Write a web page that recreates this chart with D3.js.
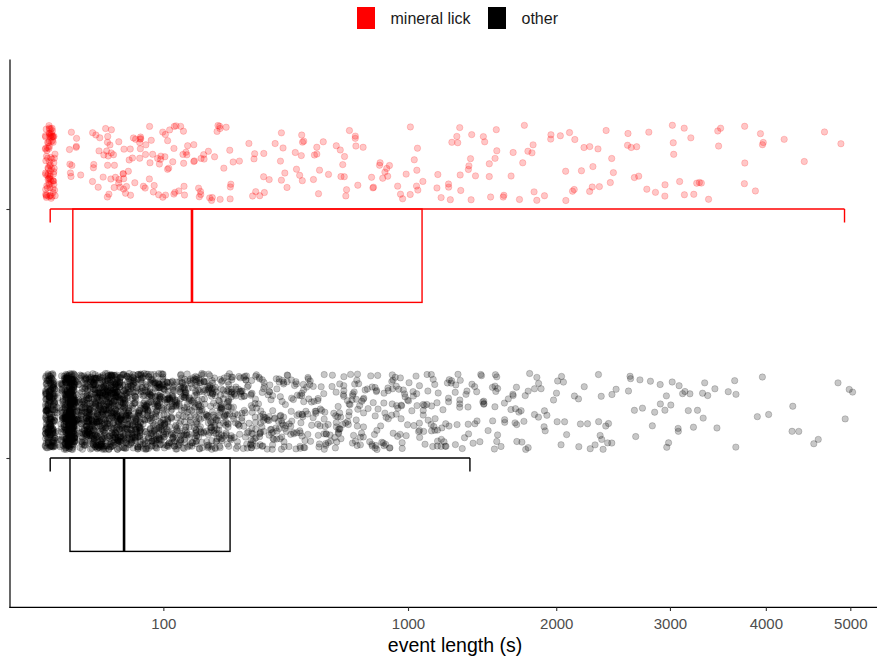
<!DOCTYPE html>
<html><head><meta charset="utf-8">
<script src="https://cdn.jsdelivr.net/npm/d3@7"></script>
<style>body{margin:0;background:#fff}svg{display:block}</style>
</head><body>
<svg id="chart" width="877" height="656"></svg>
<script>
// ---------------- data ----------------
const groups = ["mineral lick", "other"];
const groupColors = ["#FF0000", "#000000"];
const xTickValues = [100, 1000, 2000, 3000, 4000, 5000];
const xTitle = "event length (s)";

// mineral lick: event length (s) and number of events with that length
const lickLengths = [
  0, 2.6, 2.9, 3.1, 3.4, 5.2, 5.8, 15, 15.7, 16.2,
  16.4, 18.1, 19.4, 19.9, 22.1, 22.6, 23.5, 24.3, 24.9, 25.5,
  27.3, 28, 29.5, 31.2, 33.8, 34.5, 36.3, 38.8, 39.9, 41.1,
  41.8, 42.6, 43.7, 45.7, 47.7, 49, 50.6, 51, 54, 56.2,
  57.5, 59.4, 60.7, 64, 66.8, 68.8, 71.7, 72.8, 73.8, 77.9,
  80.5, 84.2, 89.7, 91.4, 94.2, 96.5, 97.1, 98.3, 98.9, 100.1,
  101.2, 101.8, 107.2, 109.1, 112.2, 115.3, 117.2, 118.5, 119.8, 125,
  128.3, 135.1, 137.2, 142, 145.6, 147, 152.8, 156.5, 162.4, 167.7,
  171.5, 173.9, 175.4, 177, 183.3, 195.5, 199.6, 208, 212.3, 216.6,
  221, 236.1, 238.9, 243.4, 245.3, 250.8, 252.7, 262.2, 276.7, 312.1,
  317.3, 327.9, 331.1, 333.3, 358.5, 360.7, 380, 406.9, 412.8, 418.9,
  422.5, 431, 441, 470, 477, 481, 484, 492, 502, 507,
  538, 542, 546, 553, 586, 602, 644, 648, 670, 675,
  679, 688, 705, 718, 729, 733, 746, 755, 800, 804,
  831, 846, 850, 862, 870, 882, 896, 910, 933, 958,
  960, 1006, 1011, 1021, 1032, 1037, 1058, 1061, 1072, 1139,
  1167, 1185, 1213, 1256, 1268, 1273, 1292, 1297, 1321, 1338,
  1351, 1383, 1388, 1439, 1447, 1486, 1493, 1530, 1543, 1586,
  1591, 1668, 1693, 1723, 1734, 1751, 1794, 1800, 1820, 1843,
  1878, 1937, 1991, 2058, 2067, 2076, 2100, 2113, 2129, 2138,
  2169, 2201, 2255, 2271, 2287, 2297, 2345, 2368, 2434, 2441,
  2444, 2502, 2563, 2587, 2631, 2645, 2656, 2736, 2761, 2786,
  2815, 2923, 3015, 3045, 3071, 3090, 3146, 3173, 3192, 3241,
  3253, 3300, 3346, 3358, 3476, 3496, 3528, 3789, 3864, 3940,
  3970, 3991, 4207, 4452, 4647, 4928
];
const lickCounts = [
  85, 2, 1, 2, 1, 3, 1, 2, 1, 1,
  1, 1, 2, 1, 2, 1, 2, 1, 2, 1,
  1, 2, 2, 1, 1, 2, 1, 1, 1, 1,
  2, 1, 1, 1, 2, 1, 1, 1, 1, 1,
  1, 1, 2, 1, 1, 3, 2, 2, 1, 1,
  1, 1, 1, 2, 1, 1, 1, 1, 1, 1,
  1, 1, 1, 1, 2, 1, 1, 1, 1, 1,
  3, 1, 3, 1, 1, 1, 2, 1, 1, 1,
  2, 1, 1, 1, 2, 2, 1, 2, 1, 1,
  1, 2, 1, 1, 1, 1, 1, 2, 1, 1,
  1, 2, 1, 1, 1, 2, 1, 2, 1, 1,
  1, 1, 1, 1, 1, 1, 1, 1, 2, 1,
  1, 1, 1, 3, 1, 1, 1, 1, 1, 1,
  1, 2, 1, 1, 1, 2, 1, 1, 1, 1,
  1, 1, 1, 1, 1, 1, 1, 1, 1, 1,
  1, 1, 1, 1, 1, 2, 1, 1, 1, 1,
  1, 1, 1, 2, 1, 1, 1, 2, 1, 1,
  1, 2, 1, 2, 1, 1, 1, 1, 1, 2,
  2, 1, 1, 2, 1, 1, 1, 1, 1, 1,
  1, 1, 1, 1, 1, 1, 1, 1, 1, 1,
  1, 1, 1, 1, 1, 1, 1, 1, 1, 1,
  1, 1, 1, 1, 1, 1, 1, 1, 1, 1,
  1, 2, 1, 1, 1, 1, 1, 1, 1, 1,
  1, 1, 1, 1, 1, 1, 1, 3, 1, 1,
  1, 1, 1, 1, 1, 1
];

// other: event length (s) and number of events with that length
const otherLengths = [
  0, 1, 2, 3, 4, 5, 6, 7,
  8.4, 10, 11.8, 13.7, 15.7, 17.9, 20.2, 22.6, 25.2, 28, 30.8, 33.9, 37, 40.3,
  42.6, 47.3, 52.3, 57.6, 63, 68.8, 74.8, 81, 87.5, 94.3, 101, 108,
  116, 124, 132, 140, 148, 157, 166, 175, 185, 195, 205, 215, 225, 236, 247,
  258, 270, 282, 294, 306, 318, 331, 344, 357, 371, 385, 399, 413,
  427, 442, 457, 472, 488, 504, 520, 536, 552, 569, 586, 603, 621, 639,
  657, 675, 693, 712, 731, 750, 770, 790, 810, 830, 850, 871, 892, 913,
  935, 957, 979, 1001, 1023, 1046, 1069, 1092, 1116, 1140,
  1164, 1188, 1212, 1237, 1262, 1287, 1313, 1339, 1365, 1391,
  1417, 1444, 1471, 1498, 1526, 1554, 1582, 1610, 1638, 1667,
  1696, 1725, 1755, 1785, 1815, 1845, 1876, 1906, 1937, 1969,
  2000, 2032, 2064, 2096, 2129,
  2160, 2169, 2194, 2217, 2223, 2277, 2297, 2319, 2336, 2352,
  2368, 2385, 2395, 2401, 2441, 2485, 2502, 2508, 2587, 2611,
  2638, 2680, 2691, 2719, 2736, 2822, 2850, 2887, 2898, 2912,
  2923, 2942, 2967, 2997, 3041, 3052, 3090, 3101, 3108, 3154,
  3165, 3192, 3280, 3300, 3331, 3378, 3425, 3516, 3568, 3637,
  3698, 3711, 3856, 3919, 4012, 4260, 4348, 4362, 4533, 4611,
  4819, 4914, 4937, 5033
];
const otherCounts = [
  210, 20, 60, 270, 45, 20, 6, 5,
  44, 44, 46, 46, 46, 48, 48, 48, 46, 46, 46, 46, 45, 45,
  40, 40, 40, 40, 38, 38, 38, 36, 36, 34, 34, 32,
  26, 26, 25, 25, 24, 24, 23, 23, 22, 22, 21, 21, 20, 20, 19,
  14, 14, 13, 13, 13, 12, 12, 12, 11, 11, 11, 10, 10,
  8, 8, 8, 8, 8, 8, 8, 8, 7, 7, 7, 7, 7, 7,
  7, 7, 7, 7, 7, 7, 6, 6, 6, 6, 6, 6, 6, 6,
  5, 5, 5, 5, 5, 5, 5, 5, 5, 5,
  5, 5, 5, 5, 4, 4, 4, 4, 4, 4,
  3, 3, 3, 3, 3, 3, 3, 3, 3, 3,
  3, 3, 3, 3, 2, 3, 2, 2, 2, 2,
  2, 2, 1, 2, 1,
  1, 1, 1, 1, 1, 1, 1, 1, 1, 1,
  1, 1, 2, 1, 1, 1, 1, 1, 1, 1,
  1, 1, 1, 1, 1, 1, 1, 1, 1, 1,
  1, 2, 1, 1, 1, 1, 1, 1, 2, 1,
  1, 1, 2, 1, 1, 1, 1, 1, 1, 1,
  1, 1, 1, 1, 1, 1, 1, 1, 1, 1,
  1, 1, 1, 1
];

// boxplot summaries, in the order of `groups`
const boxLow    = [0, 0];
const boxQ1     = [4.0, 3.06];
const boxMedian = [157, 42.6];
const boxQ3     = [1080, 252.7];
const boxHigh   = [4928, 1376];

// ---------------- drawing ----------------
const panel = {left: 10, right: 877, top: 59.6, bottom: 607.4};
const svg = d3.select("#chart");
const FONT = "'Liberation Sans', Arial, Helvetica, sans-serif";

const x = d3.scaleSqrt().domain([0, 5000]).range([50.2, 850.3]);
const y = d3.scalePoint().domain(groups).range([panel.top, panel.bottom]).padding(0.6);

function expand(lengths, counts) {
  const out = [];
  const n = Math.min(lengths.length, counts.length);
  if (lengths.length !== counts.length) console.error("length mismatch", lengths.length, counts.length);
  for (let i = 0; i < n; i++) for (let k = 0; k < counts[i]; k++) out.push(lengths[i]);
  return out;
}
function mulberry32(a) {
  return function() {
    a |= 0; a = a + 0x6D2B79F5 | 0;
    let t = Math.imul(a ^ a >>> 15, 1 | a);
    t = t + Math.imul(t ^ t >>> 7, 61 | t) ^ t;
    return ((t ^ t >>> 14) >>> 0) / 4294967296;
  };
}

const series = [expand(lickLengths, lickCounts), expand(otherLengths, otherCounts)];
const rand = mulberry32(20240607);
const pts = [];
series.forEach((vals, gi) => {
  vals.forEach(v => {
    pts.push({g: gi, v: v, jx: (rand() * 2 - 1) * 5, jy: (rand() * 2 - 1) * 38});
  });
});

const cloudOffset = -46.5;   // jitter band centre relative to category line
const boxDepth = 93.4;       // half box height below category line
const capLen = 13.5;

const ptsG = svg.append("g");
ptsG.selectAll("circle").data(pts).join("circle")
  .attr("cx", d => x(d.v) + d.jx)
  .attr("cy", d => y(groups[d.g]) + cloudOffset + d.jy)
  .attr("r", 3.2)
  .attr("fill", d => groupColors[d.g])
  .attr("fill-opacity", 0.22)
  .attr("stroke", d => groupColors[d.g])
  .attr("stroke-opacity", 0.22)
  .attr("stroke-width", 0.8);

// half boxplots
const boxG = svg.append("g");
groups.forEach((g, i) => {
  const yc = y(g), col = groupColors[i];
  const bg = boxG.append("g").attr("stroke", col).attr("fill", "none");
  bg.append("rect")
    .attr("x", x(boxQ1[i])).attr("y", yc)
    .attr("width", x(boxQ3[i]) - x(boxQ1[i])).attr("height", boxDepth)
    .attr("stroke-width", 1.4);
  bg.append("line")
    .attr("x1", x(boxMedian[i])).attr("x2", x(boxMedian[i]))
    .attr("y1", yc).attr("y2", yc + boxDepth).attr("stroke-width", 2.6);
  bg.append("line")
    .attr("x1", x(boxLow[i])).attr("x2", x(boxHigh[i]))
    .attr("y1", yc).attr("y2", yc).attr("stroke-width", 1.4);
  [boxLow[i], boxHigh[i]].forEach(v => {
    bg.append("line")
      .attr("x1", x(v)).attr("x2", x(v))
      .attr("y1", yc).attr("y2", yc + capLen).attr("stroke-width", 1.4);
  });
});

// axes
const axG = svg.append("g");
axG.append("line").attr("x1", panel.left).attr("x2", panel.left)
  .attr("y1", panel.top).attr("y2", panel.bottom + 0.6)
  .attr("stroke", "#000").attr("stroke-width", 1.2);
axG.append("line").attr("x1", panel.left - 0.6).attr("x2", panel.right)
  .attr("y1", panel.bottom).attr("y2", panel.bottom)
  .attr("stroke", "#000").attr("stroke-width", 1.2);

const xAxis = svg.append("g").attr("transform", `translate(0,${panel.bottom})`)
  .call(d3.axisBottom(x).tickValues(xTickValues).tickSize(3.6).tickPadding(6).tickFormat(d3.format("d")));
xAxis.select(".domain").remove();
xAxis.selectAll(".tick line").attr("stroke", "#333").attr("stroke-width", 1.1);
xAxis.selectAll(".tick text").attr("fill", "#4D4D4D").attr("font-family", FONT)
  .attr("font-size", 15).attr("y", 11.4).attr("dy", "0.71em");

const yAxis = svg.append("g").attr("transform", `translate(${panel.left},0)`)
  .call(d3.axisLeft(y).tickSize(3.6).tickFormat(""));
yAxis.select(".domain").remove();
yAxis.selectAll(".tick line").attr("stroke", "#333").attr("stroke-width", 1.1);

svg.append("text").attr("x", 455).attr("y", 651.5)
  .attr("text-anchor", "middle").attr("font-family", FONT).attr("font-size", 19.5)
  .attr("fill", "#000").text(xTitle);

// legend
const legend = svg.append("g");
const legendX = [357, 488];
groups.forEach((g, i) => {
  legend.append("rect").attr("x", legendX[i]).attr("y", 7).attr("width", 18).attr("height", 22)
    .attr("fill", groupColors[i]);
  legend.append("text").attr("x", legendX[i] + 33.5).attr("y", 18).attr("dy", "0.35em")
    .attr("font-family", FONT).attr("font-size", 16).attr("fill", "#1A1A1A").text(g);
});
</script>
</body></html>
